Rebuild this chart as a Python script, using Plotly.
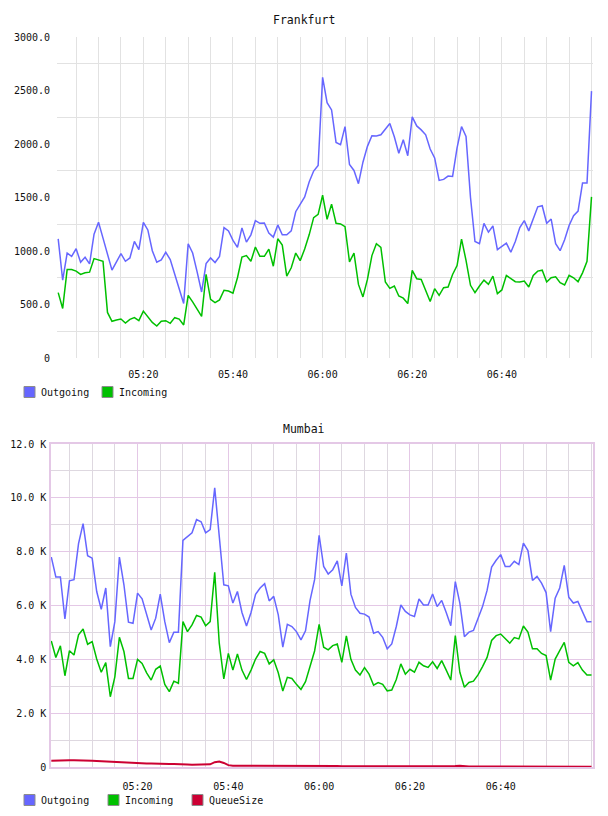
import pandas as pd
import plotly.graph_objects as go

# ---------------- data ----------------
times = pd.date_range("2024-01-01 05:01:00", periods=120, freq="1min")

fra_outgoing = [1114, 728, 981, 950, 1021, 895, 941, 880, 1157, 1268,
                1120, 972, 821, 898, 975, 904, 935, 1089, 1012, 1268,
                1197, 1003, 895, 917, 988, 920, 781, 626, 509, 1068,
                981, 805, 617, 883, 935, 892, 950, 1219, 1188, 1099,
                1034, 1216, 1083, 1151, 1284, 1259, 1262, 1167, 1130, 1244,
                1151, 1151, 1188, 1367, 1435, 1506, 1645, 1747, 1799, 2623,
                2386, 2318, 2015, 1994, 2163, 1808, 1753, 1629, 1830, 1978,
                2077, 2074, 2086, 2139, 2191, 2068, 1913, 2040, 1890, 2253,
                2169, 2132, 2086, 1953, 1870, 1660, 1669, 1700, 1697, 1963,
                2163, 2071, 1500, 1089, 1068, 1259, 1176, 1234, 1012, 1043,
                1074, 988, 1089, 1219, 1284, 1188, 1305, 1413, 1423, 1259,
                1299, 1068, 1003, 1105, 1238, 1330, 1373, 1636, 1636, 2494]

fra_incoming = [611, 463, 827, 827, 812, 781, 796, 802, 929, 913,
                904, 426, 343, 355, 364, 327, 361, 377, 349, 438,
                389, 333, 299, 343, 349, 324, 377, 364, 309, 586,
                525, 451, 389, 781, 549, 518, 543, 633, 626, 605,
                750, 944, 957, 904, 1037, 950, 950, 1018, 858, 1114,
                1055, 765, 843, 981, 910, 1018, 1151, 1312, 1342, 1521,
                1296, 1438, 1259, 1253, 1228, 898, 981, 688, 571, 734,
                957, 1068, 1034, 710, 651, 673, 580, 559, 509, 818,
                741, 734, 633, 528, 648, 586, 657, 663, 781, 864,
                1111, 913, 679, 611, 673, 728, 688, 765, 602, 636,
                772, 741, 713, 710, 719, 663, 772, 812, 821, 710,
                750, 759, 704, 682, 772, 750, 713, 796, 904, 1506]

mum_outgoing = [7800, 7060, 7060, 5500, 6920, 6960, 8300, 9040, 7850, 7760,
                6520, 5860, 6650, 4470, 5400, 7800, 6770, 5380, 5340, 6460,
                6250, 5650, 5090, 5530, 6420, 5400, 4620, 5010, 5010, 8420,
                8550, 8700, 9190, 9110, 8700, 8820, 10370, 8500, 6770, 6730,
                6090, 6520, 5740, 5240, 5740, 6420, 6650, 6810, 6170, 6340,
                5650, 4450, 5300, 5220, 5030, 4720, 5060, 6190, 6960, 8610,
                7450, 7170, 7330, 7660, 6730, 7950, 6420, 5930, 5710, 5680,
                5570, 4970, 5030, 4820, 4390, 4570, 5220, 6020, 5780, 5650,
                5590, 6240, 6020, 6020, 6430, 5960, 6190, 5740, 5250, 6890,
                6090, 4840, 5010, 5070, 5500, 5960, 6560, 7430, 7680, 7890,
                7450, 7450, 7640, 7520, 8320, 8040, 6930, 7080, 6830, 6480,
                5030, 6270, 6650, 7490, 6310, 6090, 6150, 5800, 5400, 5400]

mum_incoming = [4680, 4070, 4500, 3390, 4320, 4160, 4910, 5130, 4560, 4660,
                4010, 3520, 3880, 2610, 3350, 4820, 4290, 3290, 3290, 4000,
                3850, 3500, 3230, 3630, 3750, 3070, 2800, 3190, 3110, 5400,
                5030, 5280, 5630, 5570, 5250, 5400, 7230, 4600, 3270, 4220,
                3600, 4200, 3600, 3250, 3600, 4010, 4290, 4220, 3830, 3980,
                3500, 2820, 3330, 3290, 3070, 2880, 3170, 3790, 4310, 5300,
                4450, 4350, 4510, 4570, 3890, 4870, 4000, 3600, 3420, 3690,
                3450, 3040, 3140, 3070, 2830, 2860, 3250, 3830, 3450, 3630,
                3520, 3890, 3760, 3700, 3910, 3660, 3950, 3600, 3230, 4880,
                3520, 2960, 3140, 3190, 3420, 3730, 4070, 4700, 4880, 4940,
                4750, 4600, 4810, 4760, 5240, 5010, 4390, 4390, 4220, 4140,
                3230, 4010, 4320, 4630, 3890, 3760, 3880, 3600, 3420, 3420]

mum_queuesize = [230, 240, 240, 250, 250, 250, 250, 240, 240, 230,
                 220, 210, 200, 190, 180, 170, 160, 160, 150, 140,
                 140, 130, 130, 120, 120, 120, 110, 110, 110, 100,
                 90, 80, 80, 90, 100, 100, 180, 200, 150, 70,
                 50, 50, 50, 40, 40, 40, 40, 40, 50, 50,
                 50, 50, 60, 60, 60, 60, 60, 50, 50, 50,
                 40, 40, 40, 40, 30, 30, 30, 30, 20, 20,
                 20, 20, 20, 20, 20, 20, 20, 20, 20, 20,
                 20, 20, 20, 20, 20, 20, 20, 20, 30, 40,
                 50, 30, 20, 20, 20, 20, 20, 20, 20, 20,
                 20, 20, 20, 20, 20, 20, 20, 20, 20, 20,
                 20, 20, 10, 10, 10, 10, 10, 10, 10, 10]

x_tickvals = ["2024-01-01 05:20", "2024-01-01 05:40", "2024-01-01 06:00",
              "2024-01-01 06:20", "2024-01-01 06:40"]
x_ticktext = ["05:20", "05:40", "06:00", "06:20", "06:40"]
fra_yticks = [0, 500, 1000, 1500, 2000, 2500, 3000]
fra_yticktext = ["0", "500.0", "1000.0", "1500.0", "2000.0", "2500.0", "3000.0"]
fra_ygrid = [250, 750, 1250, 1750, 2250, 2750]
mum_yticks = [0, 2000, 4000, 6000, 8000, 10000, 12000]
mum_yticktext = ["0", "2.0 K", "4.0 K", "6.0 K", "8.0 K", "10.0 K", "12.0 K"]

fra_series = ["Outgoing", "Incoming"]
mum_series = ["Outgoing", "Incoming", "QueueSize"]

# ---------------- styling ----------------
BLUE = "rgb(102,102,255)"
GREEN = "rgb(0,192,0)"
RED = "rgb(204,0,51)"
COLORS = {"Outgoing": BLUE, "Incoming": GREEN, "QueueSize": RED}
FONT = "DejaVu Sans Mono"
GRID = "rgb(226,226,226)"
MGRID = "rgb(222,216,224)"
PINK = "rgb(228,200,230)"
W, H = 608, 816


def px_x(p):
    return p / W


def px_y(p):
    return 1 - p / H


fig = go.Figure()

# Frankfurt lines
fig.add_trace(go.Scatter(x=times, y=fra_outgoing, mode="lines", name="Outgoing",
                         line=dict(color=BLUE, width=1.5), xaxis="x", yaxis="y"))
fig.add_trace(go.Scatter(x=times, y=fra_incoming, mode="lines", name="Incoming",
                         line=dict(color=GREEN, width=1.5), xaxis="x", yaxis="y"))
# Mumbai lines
fig.add_trace(go.Scatter(x=times, y=mum_queuesize, mode="lines", name="QueueSize",
                         line=dict(color=RED, width=2), xaxis="x2", yaxis="y2"))
fig.add_trace(go.Scatter(x=times, y=mum_incoming, mode="lines", name="Incoming",
                         line=dict(color=GREEN, width=1.5), xaxis="x2", yaxis="y2"))
fig.add_trace(go.Scatter(x=times, y=mum_outgoing, mode="lines", name="Outgoing",
                         line=dict(color=BLUE, width=1.5), xaxis="x2", yaxis="y2"))

# legends (square swatch + label), laid out like the original chart
shapes, annotations = [], []


def add_legend(names, swatch_x, text_x, yc):
    for name, sx, tx in zip(names, swatch_x, text_x):
        shapes.append(dict(type="rect", xref="paper", yref="paper",
                           x0=px_x(sx), x1=px_x(sx + 11),
                           y0=px_y(yc + 5.5), y1=px_y(yc - 5.5),
                           fillcolor=COLORS[name],
                           line=dict(color="rgb(140,140,140)", width=1)))
        annotations.append(dict(text=name, x=px_x(tx), y=px_y(yc), xref="paper",
                                yref="paper", showarrow=False, xanchor="left",
                                yanchor="middle",
                                font=dict(family=FONT, size=10, color="#111")))


add_legend(fra_series, [24, 102], [38.5, 117], 392)
add_legend(mum_series, [24, 108, 192], [38.5, 123, 206.5], 800)

annotations += [
    dict(text="Frankfurt", x=0.5, y=px_y(20), xref="paper", yref="paper",
         showarrow=False, xanchor="center", yanchor="middle",
         font=dict(family=FONT, size=11.5, color="#111")),
    dict(text="Mumbai", x=0.5, y=px_y(429), xref="paper", yref="paper",
         showarrow=False, xanchor="center", yanchor="middle",
         font=dict(family=FONT, size=11.5, color="#111")),
]

fra_range = ["2024-01-01 05:00:44", "2024-01-01 07:00:20"]
mum_range = ["2024-01-01 05:00:56", "2024-01-01 07:00:20"]
tick0 = "2024-01-01 05:00:00"

common_x = dict(type="date", tickmode="array", tickvals=x_tickvals, ticktext=x_ticktext,
                zeroline=False, ticks="", ticklabelstandoff=9, automargin=False,
                tickfont=dict(family=FONT, size=10, color="#111"))

fig.update_layout(
    width=W, height=H,
    margin=dict(l=0, r=0, t=0, b=0),
    paper_bgcolor="white", plot_bgcolor="white",
    font=dict(family=FONT, size=10, color="#111"),
    showlegend=False,
    xaxis=dict(domain=[px_x(57), px_x(593)], anchor="y", range=fra_range,
               showgrid=True, gridcolor=GRID, gridwidth=1,
               minor=dict(tick0=tick0, dtick=5 * 60 * 1000, showgrid=True,
                          gridcolor=GRID, gridwidth=1),
               showline=False, **common_x),
    yaxis=dict(domain=[px_y(358), px_y(37)], anchor="x", range=[0, 3000],
               tickmode="array", tickvals=fra_yticks, ticktext=fra_yticktext,
               showgrid=False,
               minor=dict(tickmode="array", tickvals=fra_ygrid,
                          showgrid=True, gridcolor=GRID, gridwidth=1),
               showline=False, zeroline=False, ticks="", ticklabelstandoff=6,
               automargin=False, tickfont=dict(family=FONT, size=10, color="#111")),
    xaxis2=dict(domain=[px_x(51), px_x(593)], anchor="y2", range=mum_range,
                showgrid=True, gridcolor=PINK, gridwidth=1,
                minor=dict(tick0=tick0, dtick=5 * 60 * 1000, showgrid=True,
                           gridcolor=MGRID, gridwidth=1),
                showline=True, linecolor=PINK, linewidth=1.5, mirror=True,
                **common_x),
    yaxis2=dict(domain=[px_y(767), px_y(444)], anchor="x2", range=[0, 12000],
                tickmode="array", tickvals=mum_yticks, ticktext=mum_yticktext,
                showgrid=True, gridcolor=PINK, gridwidth=1,
                minor=dict(tick0=0, dtick=1000, showgrid=True, gridcolor=MGRID, gridwidth=1),
                showline=True, linecolor=PINK, linewidth=1.5, mirror=True,
                zeroline=False, ticks="", ticklabelstandoff=1, automargin=False,
                tickfont=dict(family=FONT, size=10, color="#111")),
    shapes=shapes,
    annotations=annotations,
)

fig.write_html("out.html")
